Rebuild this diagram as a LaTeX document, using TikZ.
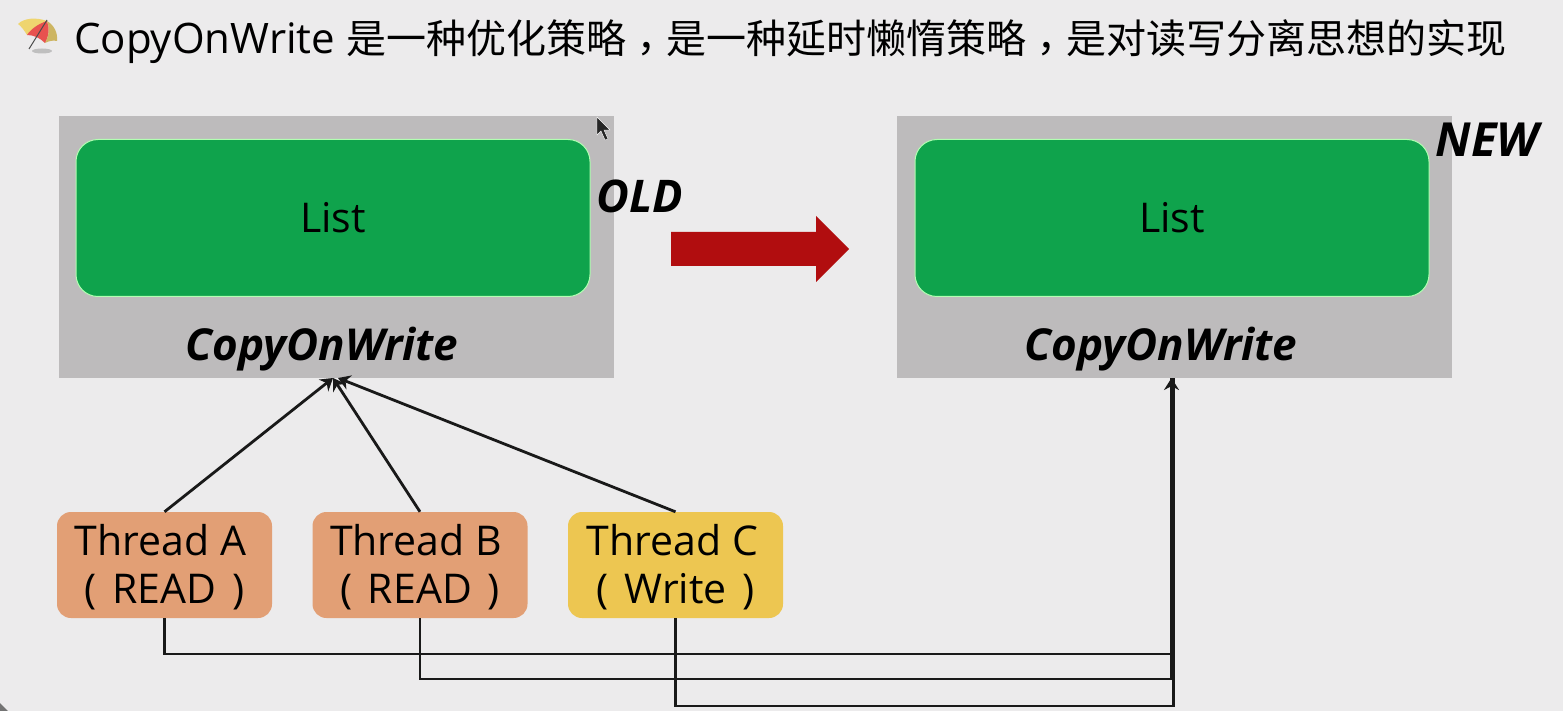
\documentclass[tikz,border=0pt]{standalone}
\usepackage{fontspec}
\usetikzlibrary{arrows.meta}
\setmainfont{Open Sans}
\newfontfamily\cjk{Noto Sans CJK SC}
\newfontfamily\cjkpunct{Noto Sans CJK TC}
\newcommand{\lowcomma}{\raisebox{-10pt}{\cjkpunct ，}}
\definecolor{slidebg}{HTML}{ECEBEC}
\definecolor{panelgray}{HTML}{BDBBBC}
\definecolor{listgreen}{HTML}{0FA34C}
\definecolor{readorange}{HTML}{E29F75}
\definecolor{writeyellow}{HTML}{EDC651}
\definecolor{arrowred}{HTML}{B10D0F}
\definecolor{umbyellow}{HTML}{EFD56F}
\definecolor{umbred}{HTML}{E8524F}
\definecolor{umbbrown}{HTML}{CDB562}
\begin{document}
\begin{tikzpicture}[
  x=1pt,y=-1pt,
  panel/.style={fill=panelgray, minimum width=555pt, minimum height=262pt, inner sep=0pt},
  listbox/.style={draw=green!30!white, line width=1pt, fill=listgreen, rounded corners=22pt, minimum width=514pt, minimum height=157pt, font=\fontsize{41}{41}\selectfont},
  threadbox/.style={rounded corners=14pt, align=center, minimum width=215pt, minimum height=106pt, inner sep=0pt, font=\fontsize{41}{48}\selectfont},
  tag/.style={font=\fontsize{44}{44}\selectfont\bfseries\itshape, inner sep=0pt},
  link/.style={draw=black!90, line width=2.8pt, line join=miter},
  up/.style={link, -{Stealth[length=12pt,width=15pt]}}
]
\fill[slidebg] (0,0) rectangle (1563,711);
\fill[black!55] (0,711) -- (0,703) -- (8,711) -- cycle;

% umbrella
\fill[black!25] (42,51) ellipse (10pt and 2.5pt);
\fill[umbyellow] (18,24) .. controls (24,18) and (36,17) .. (47,21) -- (27,35) .. controls (24,30) and (21,26) .. cycle;
\fill[umbred] (27,35) .. controls (31,29) and (38,24) .. (47,21) .. controls (50,28) and (49,36) .. (45,43) .. controls (40,38) and (34,35) .. cycle;
\fill[umbbrown] (47,21) .. controls (54,25) and (58,33) .. (57,41) .. controls (53,40) and (49,41) .. (45,43) .. controls (49,36) and (50,28) .. cycle;
\draw[black!70, line width=1pt] (29,49) -- (47,20);

% title
\node[anchor=west, inner sep=0pt, font=\fontsize{42}{42}\selectfont] (title) at (74,42) {CopyOnWrite {\fontsize{40}{40}\selectfont\cjk 是一种优化策略\lowcomma 是一种延时懒惰策略\lowcomma 是对读写分离思想的实现}};

% old side
\node[panel] (oldpanel) at (336,247) {};
\node[listbox] (oldlist) at (333,218) {List};
\node[tag] (oldcaption) at (322,349) {CopyOnWrite};
\node[tag, font=\fontsize{45}{45}\selectfont\bfseries\itshape] (oldtag) at (640,196) {OLD};

% new side
\node[panel] (newpanel) at (1174.5,247) {};
\node[listbox] (newlist) at (1172,218) {List};
\node[tag] (newcaption) at (1161,349) {CopyOnWrite};
\node[tag, font=\fontsize{47}{47}\selectfont\bfseries\itshape] (newtag) at (1487,140) {NEW};

\coordinate (oldin) at (333,378);
\coordinate (oldmid) at (338,378);
\coordinate (jointA) at (1171.5,654);
\coordinate (jointB) at (1171.5,679);
\coordinate (jointC) at (1173.5,706);
\coordinate (newin) at (1171.5,378);

% threads
\node[threadbox, fill=readorange] (threada) at (164.5,565) {\rule{0pt}{36pt}Thread A\hspace*{8pt}\\(\hspace{5pt} READ \hspace{5pt})};
\node[threadbox, fill=readorange] (threadb) at (420,565) {\rule{0pt}{36pt}Thread B\hspace*{8pt}\\(\hspace{5pt} READ \hspace{5pt})};
\node[threadbox, fill=writeyellow] (threadc) at (675.5,565) {\rule{0pt}{36pt}Thread C\hspace*{6pt}\\(\hspace{5pt} Write \hspace{5pt})};

% big arrow
\fill[arrowred] (671,232) -- (816,232) -- (816,216) -- (849,249) -- (816,282) -- (816,266) -- (671,266) -- cycle;

% cursor
\fill[black!85, draw=white, line width=0.4pt] (597,117) -- (597,135) -- (601,131) -- (605,140) -- (608,139) -- (604,130) -- (610,130) -- cycle;

\draw[up] (threada.north) -- (oldin);
\draw[up] (threadb.north) -- (oldin);
\draw[up] (threadc.north) -- (oldmid);

\draw[link] (threadc.south) |- (jointC) -- (jointC |- newin);
\draw[link] (threadb.south) |- (jointB) -- (newin);
\draw[up] (threada.south) |- (jointA) -- (newin);
\end{tikzpicture}
\end{document}
